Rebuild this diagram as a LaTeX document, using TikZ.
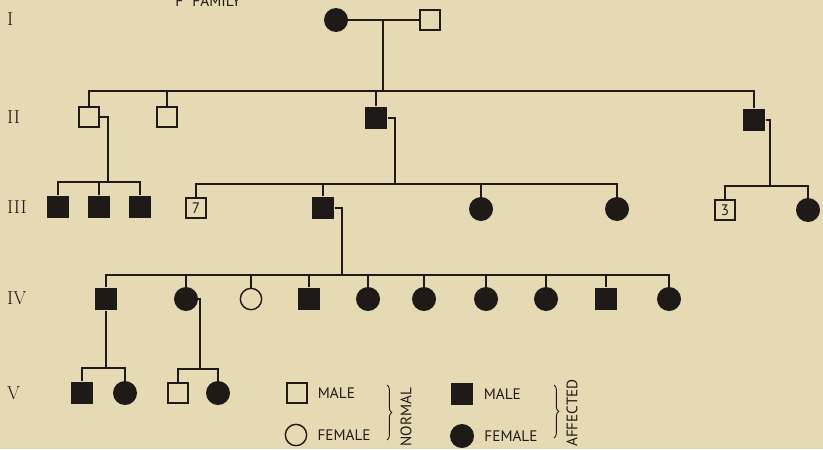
\documentclass[tikz,border=0pt]{standalone}
\usepackage{fontspec}
\newfontfamily\keyfont{PT Sans}
\usetikzlibrary{positioning, calc, decorations.pathreplacing}
\definecolor{paper}{HTML}{E6DAB5}
\definecolor{ink}{HTML}{1E1A17}

\begin{document}
\begin{tikzpicture}[x=0.03cm, y=-0.03cm,
        nmale/.style={rectangle, draw=ink, line width=1.2pt, minimum size=0.6cm, inner sep=0pt, font=\keyfont\fontsize{13}{13}\selectfont, text=ink},
        amale/.style={rectangle, fill=ink, minimum size=0.68cm, inner sep=0pt},
        nfemale/.style={circle, draw=ink, line width=1.2pt, minimum size=0.64cm, inner sep=0pt},
        afemale/.style={circle, fill=ink, minimum size=0.72cm, inner sep=0pt},
        gen/.style={anchor=west, font=\fontsize{16}{16}\selectfont, text=ink, inner sep=0pt},
        key/.style={font=\keyfont\fontsize{13}{13}\selectfont, text=ink, inner sep=0pt},
        link/.style={draw=ink, line width=1.5pt},
        curly/.style={draw=ink, line width=0.8pt, decorate, decoration={brace, amplitude=4pt}}
    ]
        \fill[paper] (0,0) rectangle (823,449);
        \useasboundingbox (0,0) rectangle (823,449);

        % title, cut by the top edge
        \node (title) [key] at (208,1) {F\hspace{0.6em}FAMILY};

        % generation numbers
        \node (gI) [gen] at (7,19) {I};
        \node (gII) [gen] at (7,117) {II};
        \node (gIII) [gen] at (7,207) {III};
        \node (gIV) [gen] at (7,298) {IV};
        \node (gV) [gen] at (7,393) {V};

        % generation I
        \node (Ia) [afemale] at (336,20) {};
        \node (Ib) [nmale] at (430,20) {};
        \coordinate (sII) at (383,91);
        \draw [link] (Ia) -- (Ib);
        \draw [link] ($(Ia)!.5!(Ib)$) -- (sII);

        % generation II
        \node (IIa) [nmale] at (89,117) {};
        \node (IIb) [nmale] at (167,117) {};
        \node (IIc) [amale] at (376,118) {};
        \node (IId) [amale] at (754,120) {};
        \draw [link] (IIa.north) |- (IId.north |- sII) -- (IId.north);
        \foreach \k in {IIb, IIc}
            \draw [link] (\k.north) -- (\k.north |- sII);

        % generation III
        \node (IIIa) [amale] at (58,207) {};
        \node (IIIb) [amale] at (99,207) {};
        \node (IIIc) [amale] at (140,207) {};
        \coordinate (sIIIa) at (108,182);
        \draw [link] (IIa.east) -| (sIIIa);
        \draw [link] (IIIa.north) |- (IIIc.north |- sIIIa) -- (IIIc.north);
        \draw [link] (IIIb.north) -- (IIIb.north |- sIIIa);

        \node (IIId) [nmale] at (196,208) {7};
        \node (IIIe) [amale] at (323,208) {};
        \node (IIIf) [afemale] at (481,209) {};
        \node (IIIg) [afemale] at (617,209) {};
        \coordinate (sIIIb) at (395,184);
        \draw [link] (IIc.east) -| (sIIIb);
        \draw [link] (IIId.north) |- (IIIg.north |- sIIIb) -- (IIIg.north);
        \foreach \k in {IIIe, IIIf}
            \draw [link] (\k.north) -- (\k.north |- sIIIb);

        \node (IIIh) [nmale] at (725,210) {3};
        \node (IIIi) [afemale] at (808,210) {};
        \coordinate (sIIIc) at (770,186);
        \draw [link] (IId.east) -| (sIIIc);
        \draw [link] (IIIh.north) |- (IIIi.north |- sIIIc) -- (IIIi.north);

        % generation IV
        \node (IVa) [amale] at (106,299) {};
        \node (IVb) [afemale] at (186,299) {};
        \node (IVc) [nfemale] at (251,299) {};
        \node (IVd) [amale] at (309,299) {};
        \node (IVe) [afemale] at (368,299) {};
        \node (IVf) [afemale] at (424,299) {};
        \node (IVg) [afemale] at (486,299) {};
        \node (IVh) [afemale] at (546,299) {};
        \node (IVi) [amale] at (606,299) {};
        \node (IVj) [afemale] at (669,299) {};
        \coordinate (sIV) at (342,275);
        \draw [link] (IIIe.east) -| (sIV);
        \draw [link] (IVa.north) |- (IVj.north |- sIV) -- (IVj.north);
        \foreach \k in {IVb, IVc, IVd, IVe, IVf, IVg, IVh, IVi}
            \draw [link] (\k.north) -- (\k.north |- sIV);

        % generation V
        \node (Va) [amale] at (82,393) {};
        \node (Vb) [afemale] at (125,393) {};
        \coordinate (sVa) at (106,368);
        \draw [link] (IVa.south) -- (sVa);
        \draw [link] (Va.north) |- (Vb.north |- sVa) -- (Vb.north);

        \node (Vc) [nmale] at (178,393) {};
        \node (Vd) [afemale] at (218,393) {};
        \coordinate (sVb) at (200,369);
        \draw [link] (IVb.east) -| (sVb);
        \draw [link] (Vc.north) |- (Vd.north |- sVb) -- (Vd.north);

        % key
        \node (kNM) [nmale] at (297,393) {};
        \node (kNF) [nfemale] at (296,435) {};
        \node (kNMt) [key, anchor=west, right=0.3cm of kNM] {MALE};
        \node (kNFt) [key, anchor=west, right=0.3cm of kNF] {FEMALE};
        \coordinate (bNa) at (387,385);
        \coordinate (bNb) at (387,440);
        \draw [curly] (bNa) -- (bNb);
        \node (kN) [key, rotate=90] at (406,417) {NORMAL};

        \node (kAM) [amale] at (462,394) {};
        \node (kAF) [afemale] at (462,436) {};
        \node (kAMt) [key, anchor=west, right=0.3cm of kAM] {MALE};
        \node (kAFt) [key, anchor=west, right=0.3cm of kAF] {FEMALE};
        \coordinate (bAa) at (554,385);
        \coordinate (bAb) at (554,438);
        \draw [curly] (bAa) -- (bAb);
        \node (kA) [key, rotate=90] at (572,413) {AFFECTED};
    \end{tikzpicture}
\end{document}
